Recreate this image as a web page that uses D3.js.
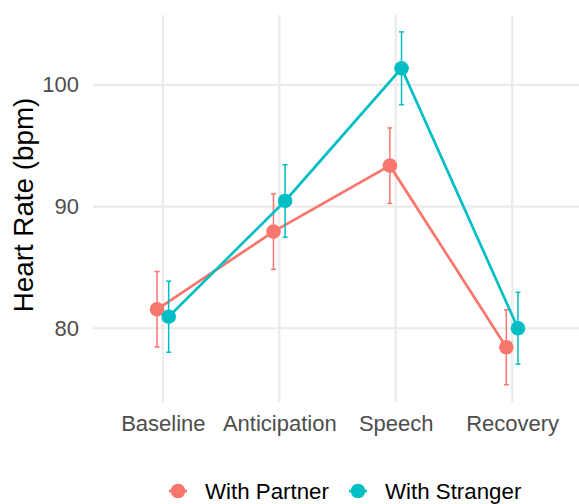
<!DOCTYPE html>
<html>
<head>
<meta charset="utf-8">
<script src="https://cdn.jsdelivr.net/npm/d3@7"></script>
<style>
  body { margin: 0; background: #fff; }
  svg { display: block; font-family: "Liberation Sans", Arial, sans-serif; }
</style>
</head>
<body>
<script>
const phases = ["Baseline", "Anticipation", "Speech", "Recovery"];
const groups = ["With Partner", "With Stranger"];
const colors = ["#F8766D", "#00BFC4"];
const partnerMean = [81.56, 87.94, 93.36, 78.44];
const partnerErr = [3.1, 3.1, 3.1, 3.08];
const strangerMean = [80.95, 90.46, 101.36, 80.0];
const strangerErr = [2.92, 2.98, 2.99, 2.95];
const yTicks = [80, 90, 100];

const W = 579, H = 504;
const panel = {left: 93, right: 582, top: 15, bottom: 402};

const svg = d3.select("body").append("svg")
    .attr("width", W)
    .attr("height", H);

const x = d3.scalePoint()
    .domain(phases)
    .range([panel.left, panel.right])
    .padding(0.6);
const step = x.step();
const dodge = step * 0.05;

const y = d3.scaleLinear()
    .domain([73.94, 105.74])
    .range([panel.bottom, panel.top]);

// grid
svg.append("g").selectAll("line")
    .data(yTicks)
    .enter().append("line")
    .attr("x1", panel.left).attr("x2", panel.right)
    .attr("y1", d => y(d)).attr("y2", d => y(d))
    .attr("stroke", "#EBEBEB").attr("stroke-width", 2.2);
svg.append("g").selectAll("line")
    .data(phases)
    .enter().append("line")
    .attr("x1", d => x(d)).attr("x2", d => x(d))
    .attr("y1", panel.top).attr("y2", panel.bottom)
    .attr("stroke", "#EBEBEB").attr("stroke-width", 2.2);

// axes labels
const yAxis = svg.append("g")
    .attr("transform", `translate(${panel.left - 14},0)`)
    .call(d3.axisLeft(y).tickValues(yTicks).tickSize(0).tickPadding(0));
yAxis.select(".domain").remove();
yAxis.selectAll("text")
    .attr("fill", "#4D4D4D")
    .attr("font-size", 22)
    .attr("font-family", null);

const xAxis = svg.append("g")
    .attr("transform", `translate(0,${panel.bottom + 12.5})`)
    .call(d3.axisBottom(x).tickSize(0).tickPadding(0));
xAxis.select(".domain").remove();
xAxis.selectAll("text")
    .attr("fill", "#4D4D4D")
    .attr("font-size", 22)
    .attr("font-family", null)
    .attr("dy", "0.75em");

svg.append("text")
    .attr("transform", `translate(33,205) rotate(-90)`)
    .attr("text-anchor", "middle")
    .attr("font-size", 27.8)
    .attr("fill", "#000")
    .text("Heart Rate (bpm)");

// series
const series = [
    {name: groups[0], color: colors[0], mean: partnerMean, err: partnerErr, off: -dodge},
    {name: groups[1], color: colors[1], mean: strangerMean, err: strangerErr, off: dodge}
];

series.forEach(s => {
    const g = svg.append("g");
    const pts = phases.map((p, i) => ({p, m: s.mean[i], e: s.err[i]}));
    const px = d => x(d.p) + s.off;

    g.append("path")
        .datum(pts)
        .attr("fill", "none")
        .attr("stroke", s.color)
        .attr("stroke-width", 2.7)
        .attr("d", d3.line().x(px).y(d => y(d.m)));

    const eb = g.selectAll(".eb").data(pts).enter().append("g")
        .attr("stroke", s.color)
        .attr("stroke-width", 1.5);
    eb.append("line")
        .attr("x1", px).attr("x2", px)
        .attr("y1", d => y(d.m - d.e)).attr("y2", d => y(d.m + d.e));
    eb.append("line")
        .attr("x1", d => px(d) - 2.5).attr("x2", d => px(d) + 2.5)
        .attr("y1", d => y(d.m + d.e)).attr("y2", d => y(d.m + d.e));
    eb.append("line")
        .attr("x1", d => px(d) - 2.5).attr("x2", d => px(d) + 2.5)
        .attr("y1", d => y(d.m - d.e)).attr("y2", d => y(d.m - d.e));

    g.selectAll("circle").data(pts).enter().append("circle")
        .attr("cx", px)
        .attr("cy", d => y(d.m))
        .attr("r", 7.3)
        .attr("fill", s.color);
});

// legend
const legendX = [178, 358];
const legend = svg.append("g").selectAll("g")
    .data(series)
    .enter().append("g")
    .attr("transform", (d, i) => `translate(${legendX[i]},491)`);
legend.append("line")
    .attr("x1", -9).attr("x2", 9)
    .attr("stroke", d => d.color)
    .attr("stroke-width", 2.7);
legend.append("circle")
    .attr("r", 7.3)
    .attr("fill", d => d.color);
legend.append("text")
    .attr("x", 27)
    .attr("dy", "0.36em")
    .attr("font-size", 22.3)
    .attr("fill", "#000")
    .text(d => d.name);
</script>
</body>
</html>
